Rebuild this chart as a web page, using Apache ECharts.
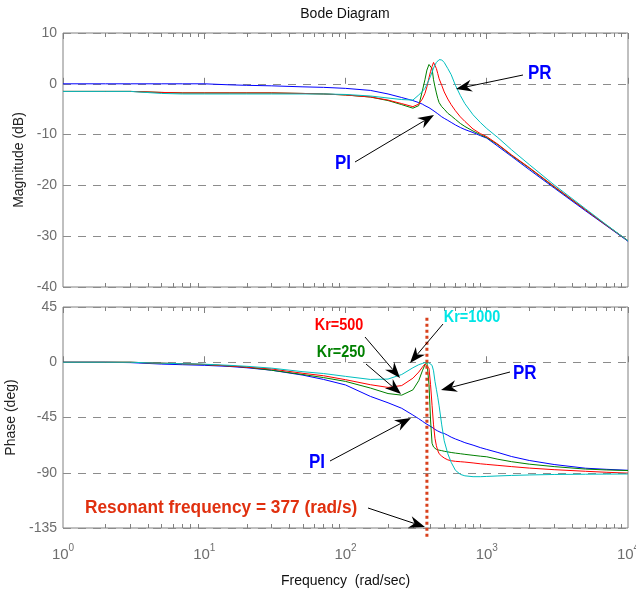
<!DOCTYPE html>
<html>
<head>
<meta charset="utf-8">
<script src="https://cdn.jsdelivr.net/npm/echarts@6/dist/echarts.min.js"></script>
<style>
  html, body { margin: 0; padding: 0; background: #fff; }
  #main { width: 636px; height: 597px; }
</style>
</head>
<body>
<div id="main"></div>
<script>
// frequency samples (rad/sec)
var freq = [1, 2, 3, 5, 7, 10, 15, 20, 30, 50, 70, 100, 150, 200, 250, 300, 330, 350, 365, 377, 390,
  400, 410, 420, 430, 440, 450, 460, 480, 500, 530, 560, 600, 650, 700, 800, 900, 1000, 1200, 1500, 2000,
  3000, 5000, 7000, 10000];

// magnitude (dB)
var magPI = [0, 0, 0, 0, 0, 0, -0.2, -0.3, -0.4, -0.6, -0.7, -0.9, -1.3, -2.0, -2.7, -3.3, -3.7, -4.0, -4.3, -4.5, -4.7,
  -4.9, -5.1, -5.3, -5.5, -5.7, -5.9, -6.1, -6.5, -6.8, -7.2, -7.6, -8.1, -8.6, -9.0, -9.6, -10.2, -10.7, -12.3, -14.3, -16.9,
  -20.5, -25.0, -27.9, -31.0];
var magKr250 = [-1.5, -1.5, -1.5, -1.7, -1.8, -1.8, -1.8, -1.8, -1.8, -1.9, -2.0, -2.2, -2.6, -3.3, -4.1, -4.8, -4.3, -1.4, 0.8, 2.7, 3.8,
  3.9, 3.0, 0.8, -0.6, -1.8, -2.9, -3.7, -4.5, -5.0, -5.8, -6.3, -7.0, -7.8, -8.4, -9.3, -10.0, -10.6, -12.0, -14.1, -16.6,
  -20.3, -24.8, -27.8, -30.9];
var magKr500 = [-1.5, -1.5, -1.5, -1.7, -1.8, -1.8, -1.8, -1.8, -1.8, -1.9, -2.0, -2.2, -2.6, -3.2, -3.9, -4.5, -4.0, -3.0, -1.9, -0.6, 1.2,
  2.4, 3.4, 4.2, 3.9, 3.0, 2.0, 1.0, -0.3, -1.6, -3.0, -4.1, -5.3, -6.5, -7.4, -8.9, -9.8, -10.4, -11.9, -14.0, -16.5,
  -20.2, -24.8, -27.8, -30.9];
var magKr1000 = [-1.5, -1.5, -1.5, -1.9, -2.0, -2.0, -2.0, -2.0, -2.0, -2.0, -2.0, -2.1, -2.4, -2.8, -3.1, -3.2, -2.2, -1.5, -0.9, -0.1, 0.8,
  1.5, 2.3, 3.1, 3.7, 4.2, 4.5, 4.75, 4.7, 4.2, 3.0, 1.8, -0.3, -2.3, -3.9, -6.1, -7.6, -8.8, -10.6, -13.0, -15.9,
  -19.9, -24.6, -27.7, -30.9];

// phase (deg)
var phasePI = [0, 0, -0.3, -1.5, -2, -2.5, -3.4, -4.5, -6.5, -10.5, -14, -18.5, -27.8, -33, -37.5, -43, -46, -48, -49.5, -50.5, -51.5,
  -52.3, -53, -54, -54.7, -55.5, -56, -56.8, -57.5, -58, -59.5, -61, -62.5, -64, -65.5, -67.5, -69.5, -71, -73.5, -76.8, -80,
  -83.3, -86.3, -87.2, -88];
var phaseKr250 = [0, 0, 0, -0.8, -1.2, -1.8, -3, -4, -6.5, -10, -12.5, -15.6, -21, -25.5, -26.8, -22.5, -15, -7, -2, 0, -18,
  -47, -66, -69, -70.5, -71, -71.3, -71.6, -72, -72.5, -73, -73.5, -74, -74.5, -75, -75.8, -76.5, -77, -79, -81, -83,
  -85, -87, -87.7, -88.2];
var phaseKr500 = [0, 0, 0, -0.8, -1.2, -1.8, -3, -4, -5.5, -9, -11, -14.2, -18.3, -20.5, -19, -13, -8, -4, -1.5, 0, -5,
  -18, -35, -51, -62, -68, -72, -74.5, -76.5, -78, -79.5, -80.2, -80.7, -81, -81.3, -82, -82.7, -83.2, -84, -85, -86.2,
  -87.5, -88.8, -89.6, -90.3];
var phaseKr1000 = [0, 0, 0, -0.8, -1.2, -1.6, -2.5, -3.3, -4.8, -7.7, -9.2, -11.5, -14, -13.7, -10, -4.5, -2, -1, -0.3, 0, -0.5,
  -1.5, -2.5, -7, -15.6, -22, -28.5, -35.5, -51, -64, -74.5, -81.5, -88, -91.3, -92.5, -93.2, -93.2, -93, -92.6, -92.2, -91.8,
  -91.4, -91.2, -91.1, -91];

var resonantFreq = 377;
var resonantLine = [36.3, -144];   // phase span of the dotted marker

var decadeTicks = [1, 10, 100, 1000, 10000];
var minorTicks = [];
[1, 10, 100, 1000].forEach(function (d) {
  for (var k = 2; k <= 9; k++) minorTicks.push(d * k);
});

var FONT = "'Liberation Sans', Arial, sans-serif";
var GRAY = '#6e6e6e';

function pairs(ys) {
  return freq.map(function (f, i) { return [f, ys[i]]; });
}

function xAxes(grid, withLabels) {
  var list = [];
  ['bottom', 'top'].forEach(function (pos) {
    [[decadeTicks, 6], [minorTicks, 4]].forEach(function (t, j) {
      list.push({
        gridIndex: grid, type: 'log', logBase: 10, min: 1, max: 10000, position: pos,
        axisLine: { show: false },
        axisTick: { show: true, inside: true, length: t[1], customValues: t[0],
          lineStyle: { color: '#808080' } },
        axisLabel: {
          show: withLabels && pos === 'bottom' && j === 0,
          customValues: decadeTicks, margin: 15,
          formatter: function (v) { return '{b|10}{s|' + Math.round(Math.log10(v)) + '}'; },
          rich: {
            b: { fontSize: 15, fontFamily: FONT, color: GRAY, lineHeight: 19, verticalAlign: 'bottom' },
            s: { fontSize: 10, fontFamily: FONT, color: GRAY, lineHeight: 12, verticalAlign: 'top' }
          }
        },
        splitLine: { show: false }
      });
    });
  });
  return list;
}

function yAxis(grid, min, max, interval, name, gap) {
  return {
    gridIndex: grid, type: 'value', min: min, max: max, interval: interval,
    name: name, nameLocation: 'middle', nameGap: gap,
    nameTextStyle: { fontSize: 14, fontFamily: FONT, color: '#222' },
    axisLine: { show: false }, axisTick: { show: false },
    axisLabel: { fontSize: 14, fontFamily: FONT, color: GRAY, margin: 6 },
    splitLine: { show: true, lineStyle: { color: '#8c8c8c', type: [8, 7], width: 1 } }
  };
}

function curve(grid, ys, color) {
  return {
    type: 'line', xAxisIndex: grid * 4, yAxisIndex: grid, data: pairs(ys),
    showSymbol: false, symbol: 'none', lineStyle: { color: color, width: 1 }, color: color,
    silent: true, animation: false
  };
}

function arrow(x1, y1, x2, y2) {
  var dx = x2 - x1, dy = y2 - y1, len = Math.sqrt(dx * dx + dy * dy);
  var ux = dx / len, uy = dy / len, nx = -uy, ny = ux;
  var L = 16, W = 6, N = 11;
  var bx = x2 - ux * L, by = y2 - uy * L, mx = x2 - ux * N, my = y2 - uy * N;
  return [
    { type: 'line', z: 100, shape: { x1: x1, y1: y1, x2: mx, y2: my }, style: { stroke: '#000', lineWidth: 1 } },
    { type: 'polygon', z: 100, shape: { points: [[x2, y2], [bx + nx * W, by + ny * W], [mx, my], [bx - nx * W, by - ny * W]] },
      style: { fill: '#000' } }
  ];
}

function label(text, x, y, color, size, align, sx) {
  return {
    type: 'text', z: 100, x: x, y: y, scaleX: sx,
    style: { text: text, fill: color, font: 'bold ' + size + 'px ' + FONT,
      align: align, verticalAlign: 'middle', textAlign: align, textVerticalAlign: 'middle' }
  };
}

var graphics = [
  { type: 'text', x: 345, y: 14, style: { text: 'Bode Diagram', fill: '#111', font: '14px ' + FONT,
    align: 'center', verticalAlign: 'middle', textAlign: 'center', textVerticalAlign: 'middle' } },
  label('PR', 528, 73, '#0000ff', 20, 'left', 0.85),
  label('PI', 351, 163, '#0000ff', 20, 'right', 0.85),
  label('Kr=500', 339, 326, '#ff0000', 16, 'center', 0.9),
  label('Kr=250', 341, 353, '#008000', 16, 'center', 0.9),
  label('Kr=1000', 472, 318, '#00e5e5', 16, 'center', 0.9),
  label('PR', 513, 373, '#0000ff', 20, 'left', 0.85),
  label('PI', 325, 462, '#0000ff', 20, 'right', 0.85),
  label('Resonant frequency = 377 (rad/s)', 85, 508, '#e0300f', 18, 'left', 0.96)
].concat(
  arrow(523, 75, 456, 89),
  arrow(355, 162, 434, 115),
  arrow(365, 337, 400, 378),
  arrow(366, 364, 401, 394),
  arrow(443, 324, 410, 363),
  arrow(510, 372, 441, 390),
  arrow(330, 461, 411, 418),
  arrow(368, 508, 425, 527)
);

var myChart = echarts.init(document.getElementById('main'));
var option = {
  animation: false,
  backgroundColor: '#fff',
  grid: [
    { left: 63, top: 33, width: 565, height: 254, show: true, borderColor: '#808080', borderWidth: 1,
      outerBoundsMode: 'none', containLabel: false },
    { left: 63, top: 307, width: 565, height: 221, show: true, borderColor: '#808080', borderWidth: 1,
      outerBoundsMode: 'none', containLabel: false }
  ],
  xAxis: xAxes(0, false).concat(xAxes(1, true)).map(function (a, i) {
    if (i === 4) {
      a.name = 'Frequency  (rad/sec)';
      a.nameLocation = 'middle';
      a.nameGap = 46;
      a.nameTextStyle = { fontSize: 14, fontFamily: FONT, color: '#111' };
    }
    return a;
  }),
  yAxis: [
    yAxis(0, -40, 10, 10, 'Magnitude (dB)', 34),
    yAxis(1, -135, 45, 45, 'Phase (deg)', 40)
  ],
  series: [
    curve(0, magPI, '#0000ff'),
    curve(0, magKr250, '#008000'),
    curve(0, magKr500, '#ff0000'),
    curve(0, magKr1000, '#00bfbf'),
    curve(1, phasePI, '#0000ff'),
    curve(1, phaseKr250, '#008000'),
    curve(1, phaseKr500, '#ff0000'),
    curve(1, phaseKr1000, '#00bfbf'),
    {
      type: 'line', xAxisIndex: 4, yAxisIndex: 1, clip: false, showSymbol: false, symbol: 'none',
      data: resonantLine.map(function (p) { return [resonantFreq, p]; }),
      lineStyle: { color: '#d8401c', width: 3, type: [3, 3] }, z: 5
    }
  ],
  graphic: graphics
};
myChart.setOption(option);
</script>
</body>
</html>
